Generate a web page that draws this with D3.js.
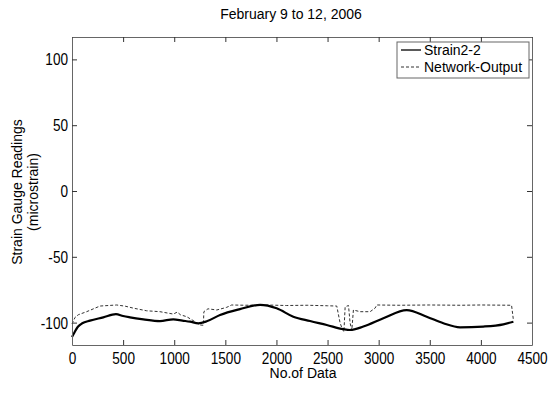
<!DOCTYPE html>
<html>
<head>
<meta charset="utf-8">
<script src="https://cdn.jsdelivr.net/npm/d3@7"></script>
<style>
  html, body { margin: 0; padding: 0; background: #fff; }
  svg { display: block; }
  .tick-label { font-family: "Liberation Sans", Arial, sans-serif; font-size: 17px; fill: #000; }
  .txt { font-family: "Liberation Sans", Arial, sans-serif; fill: #000; }
</style>
</head>
<body>
<svg id="chart" width="550" height="396"></svg>
<script>
// Strain gauge 2-2 readings vs. neural network output, Feb 9-12, 2006
const title = "February 9 to 12, 2006";
const xLabel = "No.of Data";
const yLabelLines = ["Strain Gauge Readings", "(microstrain)"];
const seriesNames = ["Strain2-2", "Network-Output"];

const xTicks = [0, 500, 1000, 1500, 2000, 2500, 3000, 3500, 4000, 4500];
const yTicks = [100, 50, 0, -50, -100];

// [sample index, microstrain]
const strainX = [0, 20, 60, 100, 176, 306, 430, 500, 567, 698, 861, 991, 1080, 1155, 1236, 1318, 1448, 1643, 1840, 2002, 2165, 2329, 2492, 2655, 2720, 2850, 3046, 3274, 3470, 3633, 3796, 4024, 4220, 4318];
const strainY = [-111, -108, -103, -100.5, -98.5, -96, -93.5, -95, -96, -97.5, -98.8, -97.5, -98.5, -99.3, -100.5, -99, -94.2, -89.7, -86.5, -89.1, -95.5, -98.8, -101.8, -105, -105.6, -103, -96.7, -90.5, -95.5, -100.5, -103.6, -103, -101.3, -99.3];

const networkX = [0, 30, 62, 143, 274, 437, 520, 600, 730, 861, 991, 1030, 1060, 1122, 1204, 1253, 1285, 1290, 1330, 1416, 1513, 1562, 1700, 1900, 2100, 2300, 2500, 2590, 2622, 2640, 2660, 2672, 2705, 2720, 2737, 2753, 2818, 2916, 2965, 2981, 3200, 3500, 3800, 4000, 4300, 4318];
const networkY = [-101, -96, -94, -91.7, -87.4, -86.6, -87.5, -89, -91, -91.7, -93.5, -92, -94, -95.5, -99.3, -101.8, -102, -91.7, -89.5, -90.4, -88.4, -86.6, -86.8, -86.6, -87, -86.8, -87.2, -87.4, -100, -104, -107, -88, -87, -100, -106, -90.4, -91.7, -91.7, -89, -86.6, -86.8, -86.6, -86.8, -86.6, -86.8, -98];

const strain = strainX.map((x, i) => [x, strainY[i]]);
const network = networkX.map((x, i) => [x, networkY[i]]);

const svg = d3.select("#chart");
const mLeft = 72, mRight = 532, mTop = 37, mBottom = 345;

const x = d3.scaleLinear().domain([0, 4500]).range([mLeft, mRight]);
const y = d3.scaleLinear().domain([-117, 117]).range([mBottom, mTop]);

const frameColor = "#666";

// Data lines
const line = d3.line().x(d => x(d[0])).y(d => y(d[1])).curve(d3.curveMonotoneX);
const lineLin = d3.line().x(d => x(d[0])).y(d => y(d[1]));

svg.append("path").datum(network)
  .attr("d", lineLin).attr("fill", "none")
  .attr("stroke", "#333").attr("stroke-width", 1)
  .attr("stroke-dasharray", "3,2");

svg.append("path").datum(strain)
  .attr("d", line).attr("fill", "none")
  .attr("stroke", "#000").attr("stroke-width", 2.2);

// Axes box with inward ticks on all sides
const tickLen = 5;
const plain = d => String(d);
const bottomAxis = d3.axisBottom(x).tickValues(xTicks).tickSize(-tickLen).tickSizeOuter(0).tickPadding(7).tickFormat(plain);
const topAxis = d3.axisTop(x).tickValues(xTicks).tickSize(-tickLen).tickSizeOuter(0).tickFormat("");
const leftAxis = d3.axisLeft(y).tickValues(yTicks).tickSize(-tickLen).tickSizeOuter(0).tickPadding(4).tickFormat(plain);
const rightAxis = d3.axisRight(y).tickValues(yTicks).tickSize(-tickLen).tickSizeOuter(0).tickFormat("");

function style(g) {
  g.select(".domain").attr("stroke", frameColor);
  g.selectAll(".tick line").attr("stroke", "#333");
  g.selectAll(".tick text").attr("class", "tick-label").attr("fill", "#000");
}

// Condensed tick digits: squeeze horizontally around the text anchor
const sx = 0.8;
function squeeze(g) {
  g.selectAll(".tick text").each(function () {
    const t = d3.select(this);
    const tx = +t.attr("x") || 0;
    t.attr("x", tx / sx).attr("transform", `scale(${sx},1)`);
  });
}

svg.append("g").attr("transform", `translate(0,${mBottom})`).call(bottomAxis).call(style).call(squeeze);
svg.append("g").attr("transform", `translate(0,${mTop})`).call(topAxis).call(style);
svg.append("g").attr("transform", `translate(${mLeft},0)`).call(leftAxis).call(style).call(squeeze);
svg.append("g").attr("transform", `translate(${mRight},0)`).call(rightAxis).call(style);

// Title and axis labels
svg.append("text").attr("class", "txt")
  .attr("x", 291).attr("y", 19)
  .attr("text-anchor", "middle").attr("font-size", 14).text(title);

svg.append("text").attr("class", "txt")
  .attr("x", 303).attr("y", 378)
  .attr("text-anchor", "middle").attr("font-size", 14).text(xLabel);

const yl = svg.append("text").attr("class", "txt")
  .attr("transform", `translate(22,192) rotate(-90)`)
  .attr("text-anchor", "middle").attr("font-size", 14);
yLabelLines.forEach((t, i) => {
  yl.append("tspan").attr("x", 0).attr("dy", i === 0 ? 0 : 16).text(t);
});

// Legend
const lg = svg.append("g").attr("transform", "translate(397,42)");
lg.append("rect").attr("width", 132).attr("height", 36)
  .attr("fill", "#fff").attr("stroke", frameColor).attr("stroke-width", 1);
const styles = [
  { stroke: "#000", width: 1.3, dash: null },
  { stroke: "#333", width: 1, dash: "3,2" }
];
seriesNames.forEach((name, i) => {
  const yy = 8 + i * 17;
  lg.append("line").attr("x1", 4).attr("x2", 24).attr("y1", yy).attr("y2", yy)
    .attr("stroke", styles[i].stroke).attr("stroke-width", styles[i].width)
    .attr("stroke-dasharray", styles[i].dash);
  lg.append("text").attr("class", "txt").attr("x", 27).attr("y", yy + 5)
    .attr("font-size", 14).text(name);
});
</script>
</body>
</html>
